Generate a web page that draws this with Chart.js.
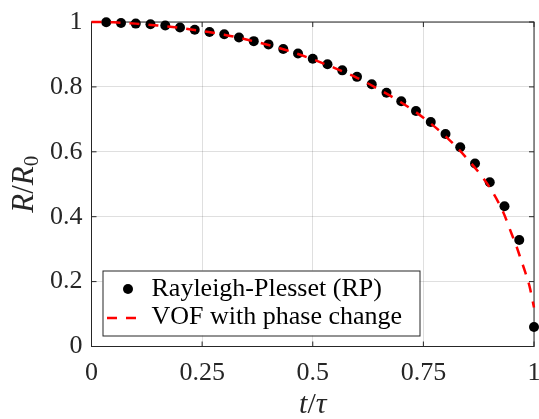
<!DOCTYPE html>
<html>
<head>
<meta charset="utf-8">
<script src="https://cdn.jsdelivr.net/npm/chart.js@4.4.1/dist/chart.umd.min.js"></script>
<style>
  html, body { margin: 0; padding: 0; background: #fff; }
  #wrap { width: 539px; height: 419px; }
</style>
</head>
<body>
<div id="wrap"><canvas id="c" width="539" height="419"></canvas></div>
<script>
// --- Data ------------------------------------------------------------------
var rpT = [0.0333, 0.0667, 0.1, 0.1333, 0.1667, 0.2, 0.2333, 0.2667, 0.3, 0.3333,
           0.3667, 0.4, 0.4333, 0.4667, 0.5, 0.5333, 0.5667, 0.6, 0.6333, 0.6667,
           0.7, 0.7333, 0.7667, 0.8, 0.8333, 0.8667, 0.9, 0.9333, 0.9667, 1.0];
var rpR = [0.999, 0.997, 0.995, 0.993, 0.989, 0.983, 0.976, 0.969, 0.962, 0.952,
           0.941, 0.931, 0.917, 0.903, 0.887, 0.870, 0.851, 0.831, 0.808, 0.782,
           0.756, 0.726, 0.692, 0.655, 0.614, 0.564, 0.506, 0.432, 0.328, 0.060];

var vofT = [0, 0.05, 0.1, 0.15, 0.2, 0.25, 0.3, 0.35, 0.4, 0.45, 0.5, 0.55, 0.6,
            0.65, 0.7, 0.75, 0.8, 0.85, 0.9, 0.93, 0.95, 0.96, 0.97, 0.98, 0.99, 1.0];
var vofR = [1.0, 0.999, 0.995, 0.989, 0.982, 0.972, 0.961, 0.946, 0.929, 0.909, 0.885, 0.858, 0.828,
            0.792, 0.752, 0.705, 0.648, 0.577, 0.49, 0.415, 0.345, 0.31, 0.27, 0.23, 0.185, 0.12];

var xTicks = [0, 0.25, 0.5, 0.75, 1];
var yTicks = [0, 0.2, 0.4, 0.6, 0.8, 1];

var legendLabels = ['Rayleigh-Plesset (RP)', 'VOF with phase change'];

// --- Style ----------------------------------------------------------------
var FONT = "'Liberation Serif', 'Times New Roman', serif";
var AXIS_COLOR = '#262626';
var GRID_COLOR = 'rgba(38,38,38,0.15)';
var DASH = [10, 9];

Chart.defaults.font.family = FONT;

function toXY(xs, ys){
  return xs.map(function(x, i){ return { x: x, y: ys[i] }; });
}

function tickText(v){ return String(v); }

// box + inward ticks on all four sides (MATLAB "box on")
var axesBox = {
  id: 'axesBox',
  beforeDatasetsDraw: function(chart){
    var a = chart.chartArea, ctx = chart.ctx;
    var xs = chart.scales.x, ys = chart.scales.y;
    ctx.save();
    ctx.strokeStyle = AXIS_COLOR;
    ctx.lineWidth = 1;
    ctx.strokeRect(a.left, a.top, a.right - a.left, a.bottom - a.top);
    ctx.beginPath();
    xTicks.forEach(function(v){
      var px = xs.getPixelForValue(v);
      ctx.moveTo(px, a.bottom); ctx.lineTo(px, a.bottom - 5);
      ctx.moveTo(px, a.top);    ctx.lineTo(px, a.top + 5);
    });
    yTicks.forEach(function(v){
      var py = ys.getPixelForValue(v);
      ctx.moveTo(a.left, py);  ctx.lineTo(a.left + 5, py);
      ctx.moveTo(a.right, py); ctx.lineTo(a.right - 5, py);
    });
    ctx.stroke();
    ctx.restore();
  }
};

// axis titles with italic math + subscript
var axisTitles = {
  id: 'axisTitles',
  afterDraw: function(chart){
    var a = chart.chartArea, ctx = chart.ctx;
    ctx.save();
    ctx.fillStyle = AXIS_COLOR;
    ctx.textBaseline = 'alphabetic';

    // x: t/τ
    var parts = [['t', 'italic 30px ' + FONT, 0], ['/', '30px ' + FONT, 0], ['\u03c4', 'italic 30px ' + FONT, 0]];
    drawRun(ctx, parts, (a.left + a.right) / 2, 413);

    // y: R/R_0 rotated
    ctx.translate(33, (a.top + a.bottom) / 2);
    ctx.rotate(-Math.PI / 2);
    parts = [['R', 'italic 31px ' + FONT, 0], ['/', '31px ' + FONT, 0], ['R', 'italic 31px ' + FONT, 0], ['0', '21px ' + FONT, 5]];
    drawRun(ctx, parts, 0, 0);
    ctx.restore();
  }
};

function drawRun(ctx, parts, cx, baseY){
  var total = 0;
  parts.forEach(function(p){ ctx.font = p[1]; total += ctx.measureText(p[0]).width; });
  var x = cx - total / 2;
  parts.forEach(function(p){
    ctx.font = p[1];
    ctx.fillText(p[0], x, baseY + p[2]);
    x += ctx.measureText(p[0]).width;
  });
}

// boxed legend inside the lower-left of the axes
var legendBox = {
  id: 'legendBox',
  afterDraw: function(chart){
    var a = chart.chartArea, ctx = chart.ctx;
    var x0 = a.left + 11, y0 = a.bottom - 76, w = 317, h = 65;
    ctx.save();
    ctx.fillStyle = '#fff';
    ctx.fillRect(x0, y0, w, h);
    ctx.strokeStyle = AXIS_COLOR;
    ctx.lineWidth = 1;
    ctx.strokeRect(x0 + 0.5, y0 + 0.5, w, h);

    // marker
    ctx.fillStyle = '#000';
    ctx.beginPath();
    ctx.arc(x0 + 25.5, y0 + 18.5, 5, 0, Math.PI * 2);
    ctx.fill();

    // dashed sample
    ctx.strokeStyle = '#ff0000';
    ctx.lineWidth = 2.5;
    ctx.setLineDash(DASH);
    ctx.beginPath();
    ctx.moveTo(x0 + 4.5, y0 + 47.5);
    ctx.lineTo(x0 + 37, y0 + 47.5);
    ctx.stroke();
    ctx.setLineDash([]);

    ctx.fillStyle = '#000';
    ctx.font = '26px ' + FONT;
    ctx.textBaseline = 'alphabetic';
    ctx.fillText(legendLabels[0], x0 + 49, y0 + 25);
    ctx.fillText(legendLabels[1], x0 + 49, y0 + 53);
    ctx.restore();
  }
};

var chart = new Chart(document.getElementById('c').getContext('2d'), {
  type: 'scatter',
  data: {
    datasets: [{
      label: legendLabels[0],
      data: toXY(rpT, rpR),
      showLine: false,
      pointRadius: 5,
      pointBackgroundColor: '#000',
      pointBorderColor: '#000',
      pointBorderWidth: 0,
      clip: false,
      order: 2
    }, {
      label: legendLabels[1],
      data: toXY(vofT, vofR),
      showLine: true,
      borderColor: '#ff0000',
      borderWidth: 2.5,
      borderDash: DASH,
      pointRadius: 0,
      cubicInterpolationMode: 'monotone',
      clip: false,
      order: 1
    }]
  },
  options: {
    responsive: false,
    animation: false,
    devicePixelRatio: 1,
    layout: { padding: { top: 22, right: 5, left: 0, bottom: 0 } },
    plugins: { legend: { display: false }, tooltip: { enabled: false } },
    scales: {
      x: {
        type: 'linear', min: 0, max: 1,
        afterBuildTicks: function(s){ s.ticks = xTicks.map(function(v){ return { value: v }; }); },
        afterFit: function(s){ s.height = 72.5; s.paddingLeft = 0; s.paddingRight = 0; },
        grid: { color: GRID_COLOR, drawTicks: false },
        border: { display: false },
        ticks: { font: { family: FONT, size: 26 }, color: AXIS_COLOR, padding: 11, maxRotation: 0, callback: tickText }
      },
      y: {
        type: 'linear', min: 0, max: 1,
        afterBuildTicks: function(s){ s.ticks = yTicks.map(function(v){ return { value: v }; }); },
        afterFit: function(s){ s.width = 91.5; s.paddingTop = 0; s.paddingBottom = 0; },
        grid: { color: GRID_COLOR, drawTicks: false },
        border: { display: false },
        ticks: { font: { family: FONT, size: 26 }, color: AXIS_COLOR, padding: 9, callback: tickText }
      }
    }
  },
  plugins: [axesBox, axisTitles, legendBox]
});
</script>
</body>
</html>
